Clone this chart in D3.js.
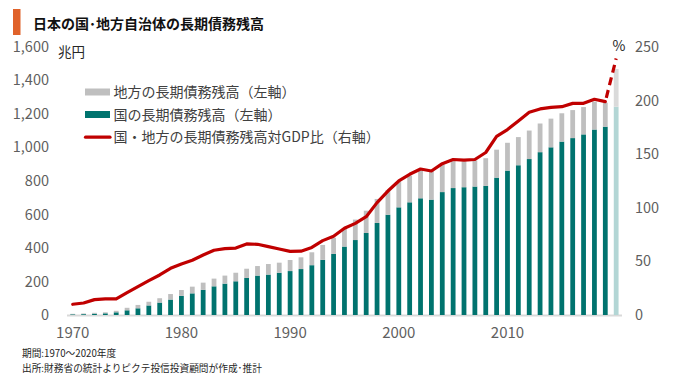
<!DOCTYPE html>
<html><head><meta charset="utf-8">
<script src="https://cdn.jsdelivr.net/npm/d3@7"></script>
<style>
html,body{margin:0;padding:0;background:#fff;}
svg{display:block;font-family:"Noto Sans CJK JP","Noto Sans",sans-serif;}
</style></head>
<body><svg id="c" width="680" height="379"></svg>
<script>
// ---- data ----
const years = d3.range(1970, 2021);
// national long-term debt (兆円)
const national = [4,5,8,10,16,28,40,57,74,92,114,129,150,171,187,201,221,235,241,252,262,274,297,329,364,408,447,489,549,598,642,672,696,688,733,757,762,766,770,819,861,893,930,971,1000,1034,1055,1077,1106,1123,1242];
// total (national + local) long-term debt (兆円)
const total = [7,9,13,16,25,43,60,79,100,125,149,169,193,217,235,252,276,292,304,312,328,344,374,418,461,519,569,622,692,745,797,831,865,861,897,917,917,922,935,986,1027,1061,1100,1142,1171,1203,1222,1240,1273,1266,1467];
const local = total.map((t, i) => t - national[i]);
// debt to GDP ratio (%)
const ratio = [10.0,11.2,14.3,15.0,15.0,20.8,26.4,32.0,37.3,43.5,47.5,51.0,55.9,60.3,61.8,62.4,66.2,65.9,63.7,61.5,59.3,59.5,63.0,69.3,73.4,80.8,85.4,91.6,104.7,115.5,124.9,131.1,136.0,134.2,141.0,144.9,144.3,144.9,151.4,166.4,172.8,180.8,188.9,192.0,193.5,194.1,197.2,197.2,201.0,198.8,239.0];
const estimateYear = 2020;
const leftTicks = [0,200,400,600,800,1000,1200,1400,1600];
const rightTicks = [0,50,100,150,200,250];
const xTicks = [1970,1980,1990,2000,2010];
const title = "日本の国･地方自治体の長期債務残高";
const legendLabels = ["地方の長期債務残高（左軸）","国の長期債務残高（左軸）","国・地方の長期債務残高対GDP比（右軸）"];
const notes = ["期間:1970～2020年度","出所:財務省の統計よりピクテ投信投資顧問が作成･推計"];

// ---- drawing ----
const svg = d3.select("#c");
svg.append("rect").attr("width",680).attr("height",379).attr("fill","#fff");

const C = {teal:"#00736e", gray:"#bfbfbf", tealL:"#b3d6d5", grayL:"#dadada", red:"#c00000", tick:"#5f5f5f", text:"#262626"};

const x = d3.scaleBand().domain(years).range([67.3, 621.6]).paddingInner(0.56).paddingOuter(0.28);
const yL = d3.scaleLinear().domain([0,1600]).range([315, 46.7]);
const yR = d3.scaleLinear().domain([0,250]).range([315, 46.7]);

// title
svg.append("rect").attr("x",13).attr("y",9).attr("width",7.5).attr("height",26).attr("fill","#e0622a");
svg.append("text").attr("x",33).attr("y",29).attr("font-size",14).attr("font-weight","bold").attr("fill","#111").text(title);

// baseline
svg.append("line").attr("x1",67).attr("x2",622).attr("y1",yL(0)+0.5).attr("y2",yL(0)+0.5)
  .attr("stroke","#d9d9d9").attr("stroke-width",2);

// bars
const g = svg.append("g");
years.forEach((yr, i) => {
  const est = yr === estimateYear;
  g.append("rect").attr("x", x(yr)).attr("width", x.bandwidth())
    .attr("y", yL(national[i])).attr("height", yL(0) - yL(national[i]))
    .attr("fill", est ? C.tealL : C.teal);
  g.append("rect").attr("x", x(yr)).attr("width", x.bandwidth())
    .attr("y", yL(total[i])).attr("height", yL(national[i]) - yL(total[i]))
    .attr("fill", est ? C.grayL : C.gray);
});

// line
const cx = d => x(d) + x.bandwidth()/2;
const line = d3.line().x(d => cx(d[0])).y(d => yR(d[1]));
const pts = years.map((yr, i) => [yr, ratio[i]]);
const solid = pts.filter(p => p[0] < estimateYear);
const dashed = pts.filter(p => p[0] >= estimateYear - 1);
svg.append("path").attr("d", line(solid)).attr("fill","none").attr("stroke",C.red)
  .attr("stroke-width",3.2).attr("stroke-linejoin","round").attr("stroke-linecap","round");
svg.append("path").attr("d", line(dashed)).attr("fill","none").attr("stroke",C.red)
  .attr("stroke-width",3.2).attr("stroke-dasharray","8,5").attr("stroke-dashoffset",-4);

// axes
const axL = svg.append("g").attr("transform","translate(49,0)")
  .call(d3.axisLeft(yL).tickValues(leftTicks).tickFormat(d3.format(",")).tickSize(0).tickPadding(0));
const axR = svg.append("g").attr("transform","translate(635,0)")
  .call(d3.axisRight(yR).tickValues(rightTicks).tickSize(0).tickPadding(0));
const axB = svg.append("g").attr("transform",`translate(0,${yL(0)})`)
  .call(d3.axisBottom(x).tickValues(xTicks).tickSize(0).tickPadding(12));
[axL, axR, axB].forEach(a => {
  a.select(".domain").remove();
  a.selectAll("text").attr("font-family",'"Noto Sans CJK JP","Noto Sans",sans-serif')
    .attr("font-size",14.5).attr("fill",C.tick);
});
axB.selectAll("text").attr("font-size",15);

// unit labels
svg.append("text").attr("x",58).attr("y",56.5).attr("font-size",13.5).attr("fill",C.text).text("兆円");
svg.append("text").attr("x",612.5).attr("y",51).attr("font-size",14).attr("fill",C.text).text("%");

// legend
const lg = svg.append("g");
const rows = [92, 114.5, 137.2];
lg.append("rect").attr("x",85).attr("y",rows[0]-3.5).attr("width",25).attr("height",7).attr("fill",C.gray);
lg.append("rect").attr("x",85).attr("y",rows[1]-3.5).attr("width",25).attr("height",7).attr("fill",C.teal);
lg.append("line").attr("x1",85.5).attr("x2",110).attr("y1",rows[2]).attr("y2",rows[2])
  .attr("stroke",C.red).attr("stroke-width",3.2).attr("stroke-linecap","round");
legendLabels.forEach((t, i) => {
  lg.append("text").attr("x",113.5).attr("y",rows[i]).attr("dy","0.36em")
    .attr("font-size",14).attr("fill","#404040").text(t);
});

// notes
notes.forEach((t, i) => {
  svg.append("text").attr("x",22).attr("y",357 + i*14.5).attr("font-size",9.7).attr("fill",C.text).text(t);
});
</script></body></html>
